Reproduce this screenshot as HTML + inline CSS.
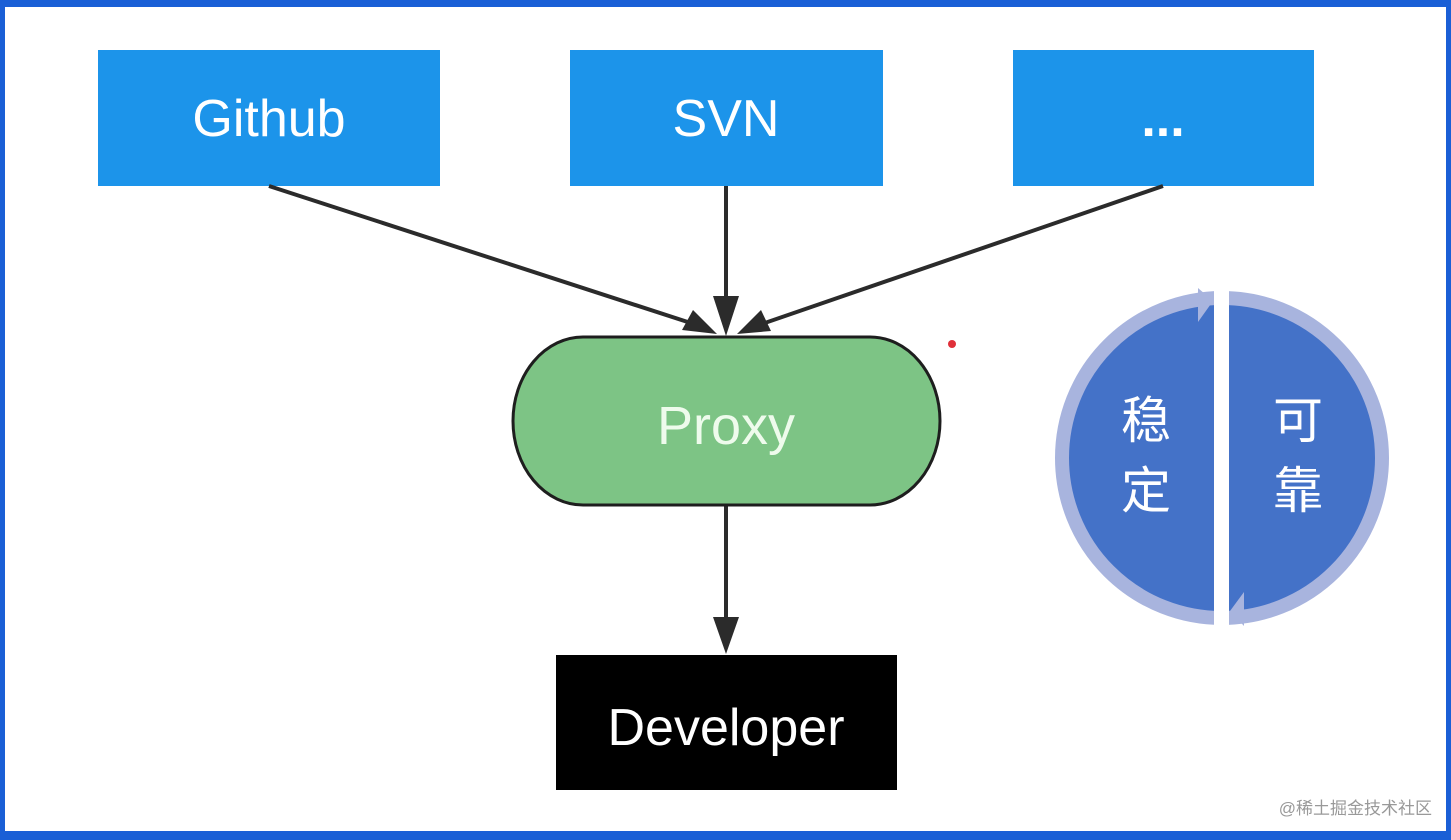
<!DOCTYPE html>
<html><head><meta charset="utf-8"><style>
html,body{margin:0;padding:0;background:#fff}
svg{display:block}
</style></head><body>
<svg width="1451" height="840" viewBox="0 0 1451 840" xmlns="http://www.w3.org/2000/svg">
<rect x="0" y="0" width="1451" height="840" fill="#1a5fd6"/>
<rect x="5" y="7" width="1441" height="824" fill="#fff"/>
<g font-family="Liberation Sans, sans-serif">
<rect x="98" y="50" width="342" height="136" fill="#1c94ea"/>
<text x="269" y="136" font-size="52" fill="#fff" text-anchor="middle">Github</text>
<rect x="570" y="50" width="313" height="136" fill="#1c94ea"/>
<text x="726" y="136" font-size="52" fill="#fff" text-anchor="middle">SVN</text>
<rect x="1013" y="50" width="301" height="136" fill="#1c94ea"/>
<text x="1163" y="136" font-size="52" fill="#fff" text-anchor="middle" font-weight="bold">...</text>
<g stroke="#2b2b2b" stroke-width="4" fill="none">
<line x1="269" y1="186" x2="700" y2="326"/>
<line x1="726" y1="186" x2="726" y2="318"/>
<line x1="1163" y1="186" x2="756" y2="326"/>
<line x1="726" y1="506" x2="726" y2="625"/>
</g>
<path d="M726,336 L713,296 L739,296 Z" fill="#2b2b2b"/>
<path d="M717,334 L682,330 L693,310 Z" fill="#2b2b2b"/>
<path d="M737,334 L771,331 L761,310 Z" fill="#2b2b2b"/>
<path d="M726,654 L713,617 L739,617 Z" fill="#2b2b2b"/>
<rect x="513" y="337" width="427" height="168" rx="70" ry="84" fill="#7dc485" stroke="#1e1e1e" stroke-width="3"/>
<text x="726" y="444" font-size="54" fill="#eefbec" text-anchor="middle">Proxy</text>
<rect x="556" y="655" width="341" height="135" fill="#000"/>
<text x="726" y="745" font-size="52" fill="#fff" text-anchor="middle">Developer</text>
<circle cx="952" cy="344" r="4" fill="#e0303a"/>
<circle cx="1222" cy="458" r="160" fill="#4472c8" stroke="#a8b4de" stroke-width="14"/>
<rect x="1214" y="285" width="15" height="345" fill="#fff"/>
<path d="M1198,288 L1213,301 L1198,322 Z" fill="#a8b4de"/>
<path d="M1244,592 L1230,611 L1244,626 Z" fill="#a8b4de"/>
<g font-family="Liberation Sans, Noto Sans CJK SC, sans-serif" font-size="50" fill="#fff" text-anchor="middle">
<text x="1146" y="438">稳</text><text x="1146" y="508">定</text>
<text x="1298" y="438">可</text><text x="1298" y="508">靠</text>
</g>
<text x="1432" y="814" font-size="17" fill="#999" text-anchor="end" font-family="Liberation Sans, Noto Sans CJK SC, sans-serif">@稀土掘金技术社区</text>
</g>
</svg>
</body></html>
